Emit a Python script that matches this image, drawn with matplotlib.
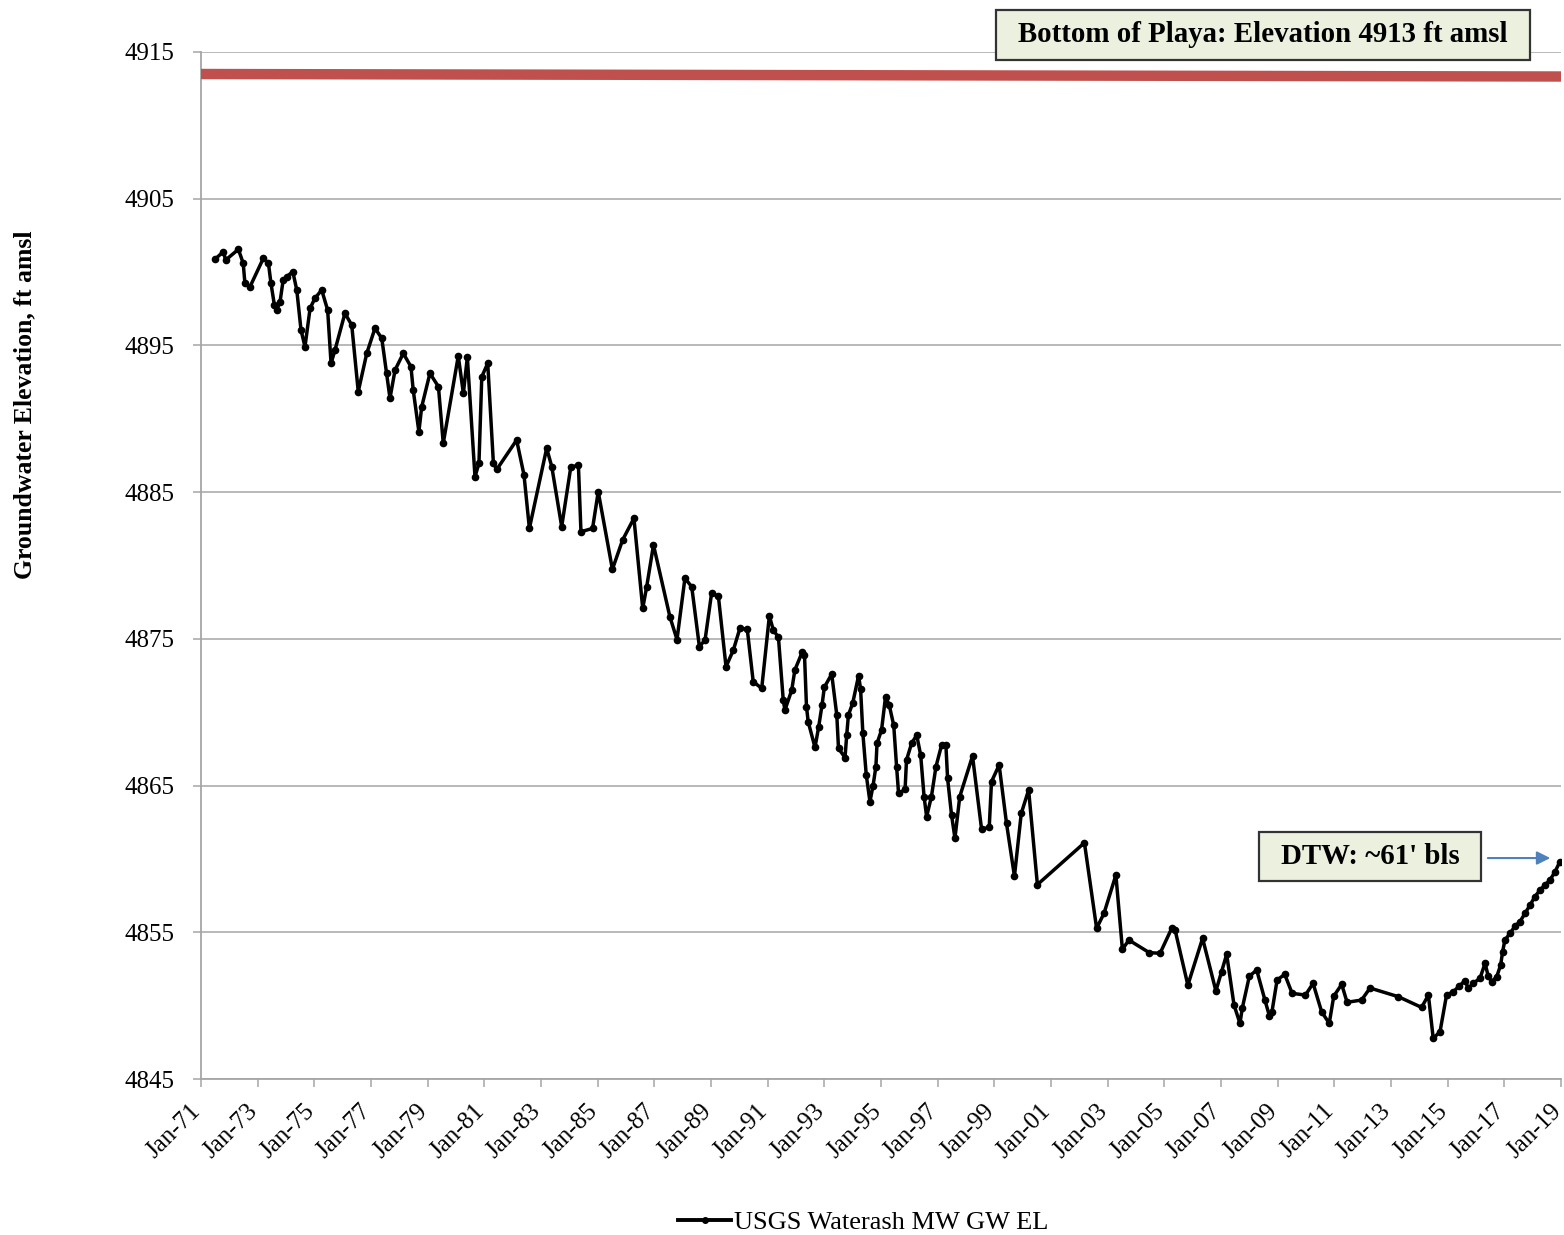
import matplotlib
matplotlib.use("Agg")
import matplotlib.pyplot as plt
import matplotlib.transforms as mtransforms
from matplotlib.patches import Rectangle
from matplotlib.lines import Line2D

# ---- data (decimal years, ft amsl) ----
years = [
    1971.49, 1971.79, 1971.87, 1972.32, 1972.49, 1972.55, 1972.73, 1973.20, 1973.38, 1973.47,
    1973.59, 1973.67, 1973.79, 1973.90, 1974.02, 1974.24, 1974.38, 1974.53, 1974.67, 1974.85,
    1975.02, 1975.26, 1975.47, 1975.59, 1975.73, 1976.08, 1976.32, 1976.55, 1976.85, 1977.14,
    1977.38, 1977.55, 1977.67, 1977.85, 1978.14, 1978.41, 1978.49, 1978.69, 1978.79, 1979.08,
    1979.38, 1979.55, 1980.08, 1980.26, 1980.40, 1980.67, 1980.81, 1980.91, 1981.12, 1981.32,
    1981.44, 1982.14, 1982.40, 1982.59, 1983.20, 1983.38, 1983.73, 1984.05, 1984.32, 1984.41,
    1984.82, 1985.02, 1985.52, 1985.88, 1986.28, 1986.59, 1986.73, 1986.97, 1987.55, 1987.80,
    1988.08, 1988.32, 1988.59, 1988.79, 1989.02, 1989.26, 1989.53, 1989.79, 1990.02, 1990.28,
    1990.49, 1990.79, 1991.06, 1991.20, 1991.38, 1991.55, 1991.61, 1991.85, 1991.96, 1992.22,
    1992.30, 1992.37, 1992.43, 1992.67, 1992.80, 1992.92, 1993.00, 1993.26, 1993.44, 1993.50,
    1993.73, 1993.79, 1993.85, 1994.00, 1994.21, 1994.28, 1994.36, 1994.48, 1994.61, 1994.72,
    1994.82, 1994.86, 1995.02, 1995.16, 1995.29, 1995.45, 1995.55, 1995.62, 1995.85, 1995.90,
    1996.08, 1996.26, 1996.40, 1996.52, 1996.61, 1996.78, 1996.94, 1997.14, 1997.29, 1997.35,
    1997.49, 1997.61, 1997.78, 1998.23, 1998.55, 1998.82, 1998.90, 1999.17, 1999.43, 1999.71,
    1999.95, 2000.21, 2000.52, 2002.18, 2002.61, 2002.87, 2003.29, 2003.52, 2003.75, 2004.47,
    2004.85, 2005.26, 2005.38, 2005.83, 2006.35, 2006.82, 2007.02, 2007.20, 2007.46, 2007.67,
    2007.75, 2008.00, 2008.26, 2008.55, 2008.71, 2008.80, 2008.98, 2009.25, 2009.51, 2009.98,
    2010.25, 2010.55, 2010.82, 2010.98, 2011.26, 2011.45, 2011.96, 2012.26, 2013.26, 2014.08,
    2014.32, 2014.49, 2014.73, 2014.96, 2015.20, 2015.41, 2015.61, 2015.73, 2015.90, 2016.14,
    2016.32, 2016.43, 2016.55, 2016.73, 2016.87, 2016.94, 2017.02, 2017.20, 2017.38, 2017.55,
    2017.73, 2017.91, 2018.08, 2018.26, 2018.43, 2018.61, 2018.79, 2018.96,
]
gw_elev = [
    4900.87, 4901.39, 4900.82, 4901.55, 4900.60, 4899.23, 4899.00, 4900.94, 4900.60, 4899.23,
    4897.75, 4897.41, 4897.98, 4899.46, 4899.68, 4900.03, 4898.78, 4896.05, 4894.91, 4897.53,
    4898.21, 4898.78, 4897.41, 4893.78, 4894.69, 4897.19, 4896.39, 4891.85, 4894.46, 4896.17,
    4895.49, 4893.10, 4891.40, 4893.33, 4894.46, 4893.55, 4891.96, 4889.12, 4890.82, 4893.10,
    4892.19, 4888.33, 4894.28, 4891.74, 4894.19, 4886.05, 4886.96, 4892.87, 4893.78, 4886.96,
    4886.55, 4888.55, 4886.17, 4882.53, 4887.99, 4886.74, 4882.65, 4886.69, 4886.85, 4882.30,
    4882.53, 4885.03, 4879.74, 4881.74, 4883.22, 4877.08, 4878.55, 4881.40, 4876.50, 4874.95,
    4879.13, 4878.55, 4874.47, 4874.92, 4878.10, 4877.92, 4873.10, 4874.24, 4875.72, 4875.65,
    4872.08, 4871.63, 4876.56, 4875.60, 4875.10, 4870.83, 4870.15, 4871.51, 4872.88, 4874.10,
    4873.90, 4870.38, 4869.35, 4867.60, 4869.00, 4870.50, 4871.70, 4872.60, 4869.80, 4867.54,
    4866.90, 4868.45, 4869.81, 4870.61, 4872.50, 4871.56, 4868.56, 4865.72, 4863.90, 4865.00,
    4866.29, 4867.88, 4868.79, 4871.06, 4870.49, 4869.10, 4866.29, 4864.47, 4864.74, 4866.74,
    4867.88, 4868.44, 4867.08, 4864.25, 4862.88, 4864.25, 4866.29, 4867.77, 4867.77, 4865.49,
    4862.99, 4861.41, 4864.25, 4867.01, 4862.02, 4862.16, 4865.27, 4866.40, 4862.42, 4858.82,
    4863.10, 4864.70, 4858.25, 4861.10, 4855.27, 4856.29, 4858.90, 4853.84, 4854.47, 4853.61,
    4853.57, 4855.27, 4855.15, 4851.40, 4854.59, 4851.00, 4852.32, 4853.50, 4850.04, 4848.79,
    4849.82, 4852.00, 4852.43, 4850.38, 4849.29, 4849.60, 4851.75, 4852.13, 4850.84, 4850.72,
    4851.52, 4849.59, 4848.79, 4850.65, 4851.45, 4850.23, 4850.38, 4851.20, 4850.61, 4849.88,
    4850.72, 4847.77, 4848.22, 4850.72, 4850.95, 4851.34, 4851.70, 4851.18, 4851.52, 4851.86,
    4852.89, 4852.02, 4851.63, 4851.97, 4852.77, 4853.68, 4854.47, 4854.93, 4855.43, 4855.72,
    4856.29, 4856.86, 4857.43, 4857.88, 4858.22, 4858.56, 4859.13, 4859.81,
]
playa_years = [1971.0, 2019.0]
playa_elev = [4913.5, 4913.33]

x_ticks = list(range(1971, 2020, 2))
x_tick_labels = ["Jan-%02d" % (y % 100) for y in x_ticks]
y_ticks = [4845, 4855, 4865, 4875, 4885, 4895, 4905, 4915]

series_label = "USGS Waterash MW GW EL"
ylabel = "Groundwater Elevation, ft amsl"
box1_text = "Bottom of Playa: Elevation 4913 ft amsl"
box2_text = "DTW: ~61' bls"

plt.rcParams['font.family'] = ['Liberation Serif', 'DejaVu Serif']

W, H = 1564, 1235
fig = plt.figure(figsize=(W / 100, H / 100), dpi=100)
ax = fig.add_axes([201 / W, 1 - 1079 / H, (1561 - 201) / W, (1079 - 52) / H])

grid_col = "#A6A6A6"
ax.set_xlim(1971, 2019)
ax.set_ylim(4845, 4915)
ax.set_yticks(y_ticks)
ax.set_yticklabels([str(v) for v in y_ticks], fontsize=18)
ax.set_xticks(x_ticks)
ax.set_xticklabels(x_tick_labels, fontsize=18, rotation=45, ha='right', rotation_mode='anchor')
ax.yaxis.grid(True, color=grid_col, linewidth=1.1)
ax.set_axisbelow(True)
for s in ['top', 'right']:
    ax.spines[s].set_visible(False)
for s in ['left', 'bottom']:
    ax.spines[s].set_color(grid_col)
    ax.spines[s].set_linewidth(1.3)
ax.tick_params(axis='both', direction='out', length=6, color=grid_col, width=1.1)
ax.tick_params(axis='y', pad=13)
ax.tick_params(axis='x', pad=9)
offset = mtransforms.ScaledTranslation(-11 / 100, 0, fig.dpi_scale_trans)
for lab in ax.xaxis.get_majorticklabels():
    lab.set_transform(lab.get_transform() + offset)

ax.plot(playa_years, playa_elev, color="#C0504D", linewidth=7.5, solid_capstyle='butt', zorder=3)
line, = ax.plot(years, gw_elev, color='black', linewidth=2.5, marker='o', markersize=4.5, zorder=4)

fig.text(25 / W, 1 - 405 / H, ylabel, rotation=90, ha='center', va='center',
         fontsize=18.5, fontweight='bold')

# annotation boxes
def box(x0, y0, x1, y1, text, fs):
    r = Rectangle((x0 / W, 1 - y1 / H), (x1 - x0) / W, (y1 - y0) / H, transform=fig.transFigure,
                  facecolor="#EBF1DE", edgecolor="#333333", linewidth=1.6, zorder=10)
    fig.patches.append(r)
    fig.text((x0 + x1) / 2 / W, 1 - (y0 + y1) / 2 / H, text, ha='center', va='center',
             fontsize=fs, fontweight='bold', zorder=11)

box(996, 10, 1530, 60, box1_text, 20.8)
box(1259, 832, 1481, 881, box2_text, 20.8)

ax.annotate("", xy=(2018.72, 4860.06), xytext=(2016.32, 4860.06),
            arrowprops=dict(arrowstyle='-|>', color="#4F81BD", lw=1.5, mutation_scale=20),
            annotation_clip=False, zorder=12)

handle = Line2D([], [], color='black', linewidth=2.8, marker='o', markersize=4)
fig.legend([handle], [series_label], loc='center', bbox_to_anchor=(0.552, 1 - 1222 / H),
           frameon=False, fontsize=19, handlelength=2.0, handletextpad=0.1)

fig.savefig("out.png", dpi=100)
